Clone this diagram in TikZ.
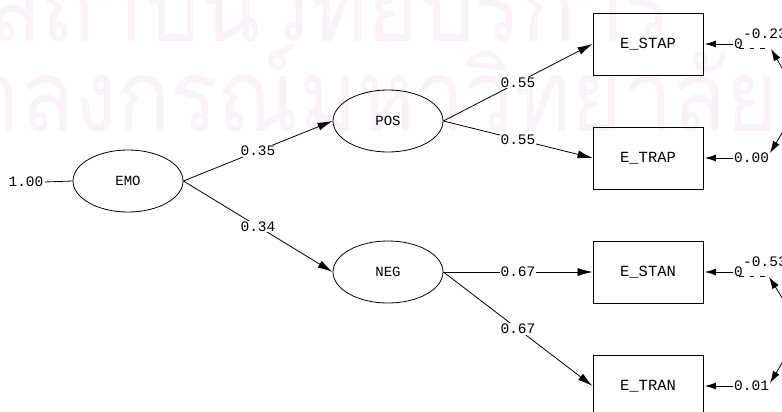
\documentclass[tikz,border=0pt]{standalone}
\usepackage{fontspec}
\usepackage{graphicx}
\setmonofont{Liberation Mono}
\newfontfamily\wmfont[Script=Thai]{Loma}
\usetikzlibrary{shapes.geometric,arrows.meta}
\definecolor{wmpink}{RGB}{249,242,248}

\begin{document}
\begin{tikzpicture}[x=1pt,y=-1pt,
  latent/.style={ellipse,draw,line width=0.8pt,minimum width=110pt,minimum height=62pt,
    inner sep=0pt,font=\ttfamily\fontsize{14}{14}\selectfont},
  observed/.style={rectangle,draw,line width=0.9pt,minimum width=110pt,minimum height=62pt,
    inner sep=0pt,font=\ttfamily\fontsize{15.5}{15.5}\selectfont},
  coef/.style={fill=white,inner sep=1pt,font=\ttfamily\fontsize{14.5}{14.5}\selectfont},
  errlab/.style={inner sep=1pt,font=\ttfamily\fontsize{14.5}{14.5}\selectfont},
  loading/.style={line width=0.8pt,-{Latex[length=15pt,width=8pt]}},
  errarrow/.style={line width=0.8pt,-{Latex[length=11pt,width=7pt]},shorten >=1.5pt},
  covcurve/.style={line width=0.8pt,{Latex[length=12pt,width=7.5pt]}-{Latex[length=12pt,width=7.5pt]}},
  hidden/.style={line width=1pt,dash pattern=on 4.5pt off 6pt},
  wmtext/.style={text=wmpink,inner sep=0pt,font=\wmfont\fontsize{95}{95}\selectfont}
]
\useasboundingbox (0,0) rectangle (782,412);
\clip (0,0) rectangle (782,412);
\fill[white] (0,0) rectangle (782,412);

% background watermark
\node[wmtext,anchor=base west] (wmtop) at (-12,42) {\scalebox{0.925}[1.05]{สถาบันวิทยบริการ}};
\node[wmtext,anchor=base east] (wmbot) at (778,131) {\scalebox{0.925}[1.05]{จุฬาลงกรณ์มหาวิทยาลัย}};

% latent variables
\node[latent] (emo) at (128,181) {EMO};
\node[latent] (pos) at (388,121) {POS};
\node[latent] (neg) at (388,272) {NEG};

% indicators
\node[observed] (stap) at (648,44) {E\_STAP};
\node[observed] (trap) at (648,158) {E\_TRAP};
\node[observed] (stan) at (648,272) {E\_STAN};
\node[observed] (tran) at (648,386) {E\_TRAN};

% variance of EMO
\node[errlab] (varemo) at (26,182) {1.00};
\draw[line width=0.8pt] (varemo.east) -- (emo.west);

% structural paths
\draw[loading] (emo.east) -- node[coef] {0.35} (pos.west);
\draw[loading] (emo.east) -- node[coef] {0.34} (neg.west);

% measurement paths
\draw[loading] (pos.east) -- node[coef] {0.55} (stap.west);
\draw[loading] (pos.east) -- node[coef] {0.55} (trap.west);
\draw[loading] (neg.east) -- node[coef] {0.67} (stan.west);
\draw[loading] (neg.east) -- node[coef] {0.67} (tran.west);

% error variances
\node[errlab,anchor=west] (e1) at (733,44) {0};
\node[errlab,anchor=west] (e2) at (733,158) {0.00};
\node[errlab,anchor=west] (e3) at (733,272) {0};
\node[errlab,anchor=west] (e4) at (733,386) {0.01};
\draw[errarrow] (e1.west) -- (stap.east);
\draw[errarrow] (e2.west) -- (trap.east);
\draw[errarrow] (e3.west) -- (stan.east);
\draw[errarrow] (e4.west) -- (tran.east);
\draw[hidden] (739,48.5) -- (768,48.5);
\draw[hidden] (739,276.5) -- (768,276.5);

% error covariances
\node[errlab,anchor=west] (c1) at (742,34) {-0.23};
\node[errlab,anchor=west] (c2) at (742,262) {-0.53};
\coordinate (c1top) at (771,49);
\coordinate (c1bot) at (770,153);
\coordinate (c2top) at (769,277);
\coordinate (c2bot) at (770,383);
\draw[covcurve] (c1top) .. controls (798,95) and (798,107) .. (c1bot);
\draw[covcurve] (c2top) .. controls (798,322) and (798,337) .. (c2bot);
\end{tikzpicture}
\end{document}
